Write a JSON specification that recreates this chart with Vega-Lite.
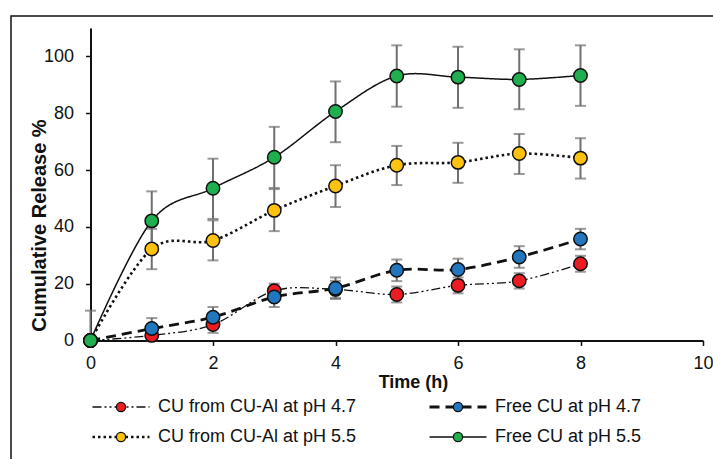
{
  "$schema": "https://vega.github.io/schema/vega-lite/v6.json",
  "width": 705,
  "height": 447,
  "autosize": {"type": "none"},
  "padding": {"left": 11, "top": 16, "right": 0, "bottom": 0},
  "config": {
    "view": {"stroke": "#111111", "strokeWidth": 1.5},
    "font": "Liberation Sans"
  },
  "datasets": {
    "release": [
      {"series": "CU from CU-Al at pH 4.7", "time": 0, "value": 0, "lo": 0, "hi": 0},
      {"series": "CU from CU-Al at pH 4.7", "time": 1, "value": 1.8, "lo": 0, "hi": 3.8},
      {"series": "CU from CU-Al at pH 4.7", "time": 2, "value": 5.6, "lo": 2.7, "hi": 8.5},
      {"series": "CU from CU-Al at pH 4.7", "time": 3, "value": 17.5, "lo": 15, "hi": 20},
      {"series": "CU from CU-Al at pH 4.7", "time": 4, "value": 18, "lo": 15, "hi": 21},
      {"series": "CU from CU-Al at pH 4.7", "time": 5, "value": 16.2, "lo": 13.4, "hi": 19},
      {"series": "CU from CU-Al at pH 4.7", "time": 6, "value": 19.4, "lo": 16.6, "hi": 22.2},
      {"series": "CU from CU-Al at pH 4.7", "time": 7, "value": 21, "lo": 18.3, "hi": 23.7},
      {"series": "CU from CU-Al at pH 4.7", "time": 8, "value": 27, "lo": 24.2, "hi": 29.8},
      {"series": "Free CU at pH 4.7", "time": 0, "value": 0, "lo": 0, "hi": 0},
      {"series": "Free CU at pH 4.7", "time": 1, "value": 4.2, "lo": 0.5, "hi": 7.9},
      {"series": "Free CU at pH 4.7", "time": 2, "value": 8.2, "lo": 4.6, "hi": 11.8},
      {"series": "Free CU at pH 4.7", "time": 3, "value": 15.3, "lo": 11.8, "hi": 18.8},
      {"series": "Free CU at pH 4.7", "time": 4, "value": 18.4, "lo": 14.6, "hi": 22.2},
      {"series": "Free CU at pH 4.7", "time": 5, "value": 24.7, "lo": 20.9, "hi": 28.5},
      {"series": "Free CU at pH 4.7", "time": 6, "value": 25, "lo": 21.2, "hi": 28.8},
      {"series": "Free CU at pH 4.7", "time": 7, "value": 29.4, "lo": 25.6, "hi": 33.2},
      {"series": "Free CU at pH 4.7", "time": 8, "value": 35.7, "lo": 32.1, "hi": 39.3},
      {"series": "CU from CU-Al at pH 5.5", "time": 0, "value": 0, "lo": 0, "hi": 0},
      {"series": "CU from CU-Al at pH 5.5", "time": 1, "value": 32.2, "lo": 25.1, "hi": 39.3},
      {"series": "CU from CU-Al at pH 5.5", "time": 2, "value": 35.2, "lo": 28.2, "hi": 42.3},
      {"series": "CU from CU-Al at pH 5.5", "time": 3, "value": 45.8, "lo": 38.5, "hi": 53.3},
      {"series": "CU from CU-Al at pH 5.5", "time": 4, "value": 54.4, "lo": 47, "hi": 61.7},
      {"series": "CU from CU-Al at pH 5.5", "time": 5, "value": 61.7, "lo": 54.7, "hi": 68.5},
      {"series": "CU from CU-Al at pH 5.5", "time": 6, "value": 62.7, "lo": 55.5, "hi": 69.6},
      {"series": "CU from CU-Al at pH 5.5", "time": 7, "value": 65.8, "lo": 58.6, "hi": 72.7},
      {"series": "CU from CU-Al at pH 5.5", "time": 8, "value": 64.2, "lo": 57, "hi": 71.2},
      {"series": "Free CU at pH 5.5", "time": 0, "value": 0, "lo": 0, "hi": 10.5},
      {"series": "Free CU at pH 5.5", "time": 1, "value": 42.1, "lo": 31.8, "hi": 52.5},
      {"series": "Free CU at pH 5.5", "time": 2, "value": 53.6, "lo": 42.8, "hi": 64},
      {"series": "Free CU at pH 5.5", "time": 3, "value": 64.5, "lo": 53.7, "hi": 75.2},
      {"series": "Free CU at pH 5.5", "time": 4, "value": 80.6, "lo": 69.8, "hi": 91.2},
      {"series": "Free CU at pH 5.5", "time": 5, "value": 93.1, "lo": 82.3, "hi": 103.9},
      {"series": "Free CU at pH 5.5", "time": 6, "value": 92.7, "lo": 81.9, "hi": 103.4},
      {"series": "Free CU at pH 5.5", "time": 7, "value": 91.9, "lo": 81.4, "hi": 102.5},
      {"series": "Free CU at pH 5.5", "time": 8, "value": 93.3, "lo": 82.6, "hi": 103.9}
    ],
    "legend": [
      {"series": "CU from CU-Al at pH 4.7", "col": "left", "row": "top"},
      {"series": "Free CU at pH 4.7", "col": "right", "row": "top"},
      {"series": "CU from CU-Al at pH 5.5", "col": "left", "row": "bottom"},
      {"series": "Free CU at pH 5.5", "col": "right", "row": "bottom"}
    ]
  },
  "layer": [
    {
      "data": {"name": "release"},
      "encoding": {
        "x": {
          "field": "time",
          "type": "quantitative",
          "scale": {"domain": [0, 10], "range": [79.5, 692], "nice": false, "zero": false},
          "axis": {
            "values": [0, 2, 4, 6, 8, 10],
            "grid": false,
            "offset": -122.5,
            "title": "Time (h)",
            "titleFont": "Liberation Sans",
            "titleFontSize": 18,
            "titleFontWeight": "bold",
            "titleColor": "#111111",
            "titleX": 402,
            "titleY": 42,
            "titleBaseline": "middle",
            "titleAlign": "center",
            "labelFont": "Liberation Sans",
            "labelFontSize": 18,
            "labelColor": "#111111",
            "labelPadding": 9,
            "labelFlush": false,
            "domainColor": "#111111",
            "domainWidth": 2,
            "tickColor": "#111111",
            "tickWidth": 1.5,
            "tickSize": 5
          }
        },
        "y": {
          "field": "value",
          "type": "quantitative",
          "scale": {"domain": [0, 110], "range": [324.5, 12], "nice": false},
          "axis": {
            "values": [0, 20, 40, 60, 80, 100],
            "grid": false,
            "offset": -79.5,
            "title": "Cumulative Release %",
            "titleFont": "Liberation Sans",
            "titleFontSize": 20,
            "titleFontWeight": "bold",
            "titleColor": "#111111",
            "titleX": -51,
            "titleY": 209,
            "titleAngle": -90,
            "titleBaseline": "middle",
            "titleAlign": "center",
            "labelFont": "Liberation Sans",
            "labelFontSize": 18,
            "labelColor": "#111111",
            "labelPadding": 12,
            "labelFlush": false,
            "domainColor": "#111111",
            "domainWidth": 2,
            "tickColor": "#111111",
            "tickWidth": 1.5,
            "tickSize": 5
          }
        }
      },
      "layer": [
        {
          "mark": {"type": "rule", "color": "#6f6f6f", "strokeWidth": 2},
          "encoding": {
            "y": {"field": "lo", "type": "quantitative"},
            "y2": {"field": "hi"}
          }
        },
        {
          "mark": {"type": "tick", "orient": "horizontal", "color": "#6f6f6f", "size": 11, "thickness": 2},
          "encoding": {"y": {"field": "lo", "type": "quantitative"}}
        },
        {
          "mark": {"type": "tick", "orient": "horizontal", "color": "#6f6f6f", "size": 11, "thickness": 2},
          "encoding": {"y": {"field": "hi", "type": "quantitative"}}
        },
        {
          "mark": {"type": "line", "color": "#111111", "interpolate": "cardinal"},
          "encoding": {
            "detail": {"field": "series", "type": "nominal"},
            "strokeDash": {
              "field": "series",
              "type": "nominal",
              "scale": {
                "domain": ["CU from CU-Al at pH 4.7", "Free CU at pH 4.7", "CU from CU-Al at pH 5.5", "Free CU at pH 5.5"],
                "range": [[9, 3, 2, 3, 2, 3], [10, 6], [2.5, 3], [1, 0]]
              },
              "legend": null
            },
            "strokeWidth": {
              "field": "series",
              "type": "nominal",
              "scale": {
                "type": "ordinal",
                "domain": ["CU from CU-Al at pH 4.7", "Free CU at pH 4.7", "CU from CU-Al at pH 5.5", "Free CU at pH 5.5"],
                "range": [1.3, 2.8, 2.6, 1.5]
              },
              "legend": null
            }
          }
        },
        {
          "mark": {"type": "point", "shape": "circle", "filled": true, "opacity": 1, "stroke": "#111111", "strokeWidth": 1.5, "size": 180},
          "encoding": {
            "fill": {
              "field": "series",
              "type": "nominal",
              "scale": {
                "domain": ["CU from CU-Al at pH 4.7", "Free CU at pH 4.7", "CU from CU-Al at pH 5.5", "Free CU at pH 5.5"],
                "range": ["#ED1C24", "#2176BD", "#FFC20E", "#1FAF4E"]
              },
              "legend": null
            }
          }
        }
      ]
    },
    {
      "data": {"name": "legend"},
      "encoding": {
        "x": {
          "field": "col",
          "type": "nominal",
          "scale": {"type": "point", "domain": ["left", "right"], "range": [110, 447], "padding": 0},
          "axis": null
        },
        "y": {
          "field": "row",
          "type": "nominal",
          "scale": {"type": "point", "domain": ["top", "bottom"], "range": [391, 421], "padding": 0},
          "axis": null
        }
      },
      "layer": [
        {
          "mark": {"type": "point", "shape": "M-1,0L1,0", "filled": false, "stroke": "#111111", "size": 3249, "opacity": 1},
          "encoding": {
            "strokeDash": {
              "field": "series",
              "type": "nominal",
              "scale": {
                "domain": ["CU from CU-Al at pH 4.7", "Free CU at pH 4.7", "CU from CU-Al at pH 5.5", "Free CU at pH 5.5"],
                "range": [[9, 3, 2, 3, 2, 3], [10, 6], [2.5, 3], [1, 0]]
              },
              "legend": null
            },
            "strokeWidth": {
              "field": "series",
              "type": "nominal",
              "scale": {
                "type": "ordinal",
                "domain": ["CU from CU-Al at pH 4.7", "Free CU at pH 4.7", "CU from CU-Al at pH 5.5", "Free CU at pH 5.5"],
                "range": [1.3, 2.8, 2.6, 1.5]
              },
              "legend": null
            }
          }
        },
        {
          "mark": {"type": "point", "shape": "circle", "filled": true, "opacity": 1, "stroke": "#111111", "strokeWidth": 1.3, "size": 85},
          "encoding": {
            "fill": {
              "field": "series",
              "type": "nominal",
              "scale": {
                "domain": ["CU from CU-Al at pH 4.7", "Free CU at pH 4.7", "CU from CU-Al at pH 5.5", "Free CU at pH 5.5"],
                "range": ["#ED1C24", "#2176BD", "#FFC20E", "#1FAF4E"]
              },
              "legend": null
            }
          }
        },
        {
          "mark": {"type": "text", "align": "left", "baseline": "middle", "dx": 37, "font": "Liberation Sans", "fontSize": 18, "color": "#111111"},
          "encoding": {"text": {"field": "series", "type": "nominal"}}
        }
      ]
    }
  ],
  "resolve": {"scale": {"x": "independent", "y": "independent"}}
}
